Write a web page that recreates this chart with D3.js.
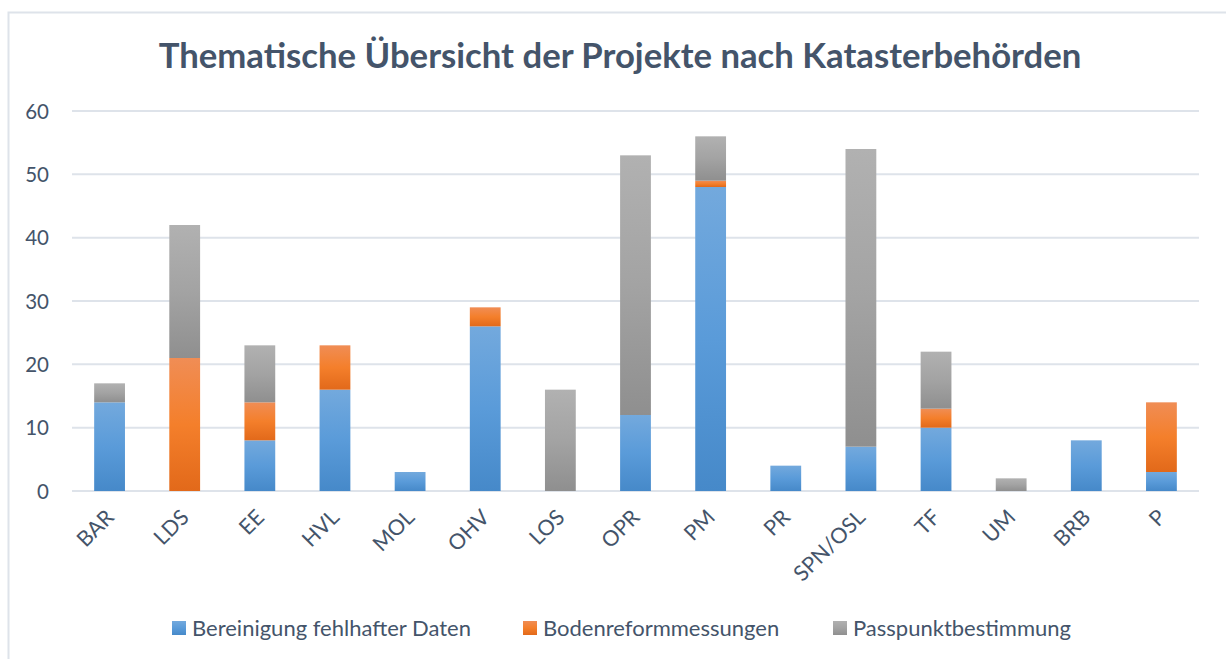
<!DOCTYPE html>
<html><head><meta charset="utf-8">
<script src="https://cdn.jsdelivr.net/npm/d3@7"></script>
<style>body{margin:0;background:#fff;} svg{display:block;}</style>
</head><body>
<svg id="chart" width="1226" height="659"></svg>
<script>
const categories = ["BAR","LDS","EE","HVL","MOL","OHV","LOS","OPR","PM","PR","SPN/OSL","TF","UM","BRB","P"];
const bereinigung = [14,0,8,16,3,26,0,12,48,4,7,10,0,8,3];
const bodenreform = [0,21,6,7,0,3,0,0,1,0,0,3,0,0,11];
const passpunkt = [3,21,9,0,0,0,16,41,7,0,47,9,2,0,0];
const seriesNames = ["Bereinigung fehlhafter Daten","Bodenreformmessungen","Passpunktbestimmung"];
const yTicks = [0,10,20,30,40,50,60];
const title = "Thematische Übersicht der Projekte nach Katasterbehörden";

const font = "Lato, 'Open Sans', sans-serif";
const textColor = "#44546A";
const svg = d3.select("#chart");

const defs = svg.append("defs");
const grads = [
  ["gBlue", ["#73A9DD","#5A9BD9","#4689C9"]],
  ["gOrange", ["#F08D55","#F47F2B","#E2691A"]],
  ["gGray", ["#B1B1B1","#A3A3A3","#8F8F8F"]]
];
grads.forEach(([id, stops]) => {
  const g = defs.append("linearGradient").attr("id", id).attr("x1",0).attr("y1",0).attr("x2",0).attr("y2",1);
  stops.forEach((c,i) => g.append("stop").attr("offset", (i/2*100)+"%").attr("stop-color", c));
});
const fills = ["url(#gBlue)","url(#gOrange)","url(#gGray)"];

// frame
svg.append("rect").attr("x",8.5).attr("y",12.5).attr("width",1240).attr("height",700)
  .attr("fill","none").attr("stroke","#DEE3EA").attr("stroke-width",2);

const plot = {left:72, right:1199, top:111, bottom:491};
const x = d3.scaleBand().domain(categories).range([plot.left, plot.right]).paddingInner(0.59).paddingOuter(0.295);
const y = d3.scaleLinear().domain([0,60]).range([plot.bottom, plot.top]);

// gridlines
svg.append("g").selectAll("line").data(yTicks).join("line")
  .attr("x1", plot.left).attr("x2", plot.right)
  .attr("y1", d => y(d)).attr("y2", d => y(d))
  .attr("stroke", "#DEE3EA").attr("stroke-width", 2);

// y axis labels
const yAxis = d3.axisLeft(y).tickValues(yTicks).tickSize(0).tickPadding(0);
const yg = svg.append("g").attr("transform", `translate(49,0)`).call(yAxis);
yg.select(".domain").remove();
yg.selectAll("text").attr("font-family", font).attr("font-size", 20.5).attr("fill", textColor).attr("dy","0.35em");

// stacked bars
const rows = categories.map((c,i) => ({cat:c, s0:bereinigung[i], s1:bodenreform[i], s2:passpunkt[i]}));
const stack = d3.stack().keys(["s0","s1","s2"])(rows);
svg.append("g").selectAll("g").data(stack).join("g")
  .attr("fill", (d,i) => fills[i])
  .selectAll("rect").data(d => d.filter(p => p[1] - p[0] > 0)).join("rect")
  .attr("x", d => x(d.data.cat))
  .attr("width", x.bandwidth())
  .attr("y", d => y(d[1]))
  .attr("height", d => y(d[0]) - y(d[1]));

// x axis labels
const xAxis = d3.axisBottom(x).tickSize(0).tickPadding(0);
const xg = svg.append("g").attr("transform", `translate(0,${plot.bottom})`).call(xAxis);
xg.select(".domain").remove();
xg.selectAll("text")
  .attr("font-family", font).attr("font-size", 21.5).attr("fill", textColor)
  .attr("text-anchor","end")
  .attr("transform","translate(-5,17) rotate(-45)")
  .attr("dy","0.7em").attr("y",0);

// title
svg.append("text").text(title).attr("x", 620).attr("y", 68).attr("text-anchor","middle")
  .attr("font-family", font).attr("font-weight","bold").attr("font-size", 34.7).attr("fill", textColor);

// legend
const legendX = [172, 523, 833];
const lg = svg.append("g");
seriesNames.forEach((n,i) => {
  lg.append("rect").attr("x", legendX[i]).attr("y", 621).attr("width",14).attr("height",14).attr("fill", fills[i]);
  lg.append("text").text(n).attr("x", legendX[i]+20).attr("y", 635.5)
    .attr("font-family", font).attr("font-size", 22).attr("fill", textColor);
});
</script>
</body></html>
